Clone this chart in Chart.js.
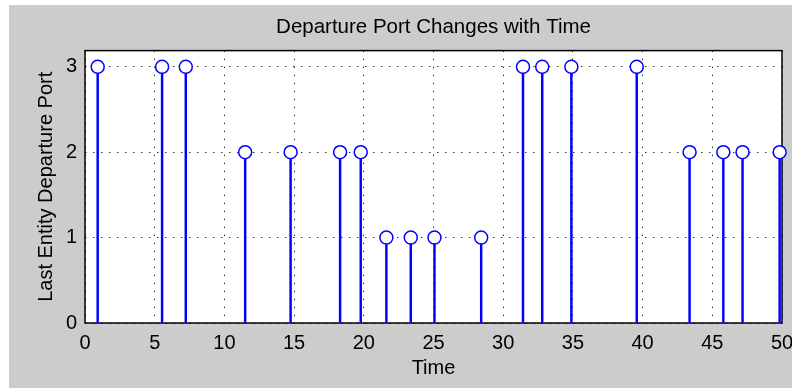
<!DOCTYPE html>
<html><head><meta charset="utf-8">
<script src="https://cdn.jsdelivr.net/npm/chart.js@4.4.0/dist/chart.umd.min.js"></script>
<style>
html,body{margin:0;padding:0;background:#fff;}
#wrap{position:absolute;left:9px;top:5px;width:783px;height:383px;background:#ccc;}
</style></head><body>
<div id="wrap"><canvas id="chartPort" width="783" height="383"></canvas></div>
<script>
const times=[0.91,5.53,7.23,11.49,14.75,18.3,19.78,21.62,23.37,25.07,28.42,31.42,32.8,34.89,39.58,43.37,45.79,47.17,49.83];
const ports=[3,3,3,2,2,2,2,1,1,1,1,3,3,3,3,2,2,2,2];
const xTicks=[0,5,10,15,20,25,30,35,40,45,50];
const yTicks=[0,1,2,3];
const FONT="'Liberation Sans', Arial, sans-serif";
const BLUE='#0000ff';

// white plot area + black box around it (matlab style)
const plotBox={id:'plotBox',
  beforeDraw(c){const {ctx,chartArea:a}=c;ctx.save();ctx.fillStyle='#fff';ctx.fillRect(a.left,a.top,a.right-a.left,a.bottom-a.top);ctx.restore();},
  beforeDatasetsDraw(c){const {ctx,chartArea:a}=c;ctx.save();ctx.strokeStyle='#000';ctx.lineWidth=1.5;ctx.strokeRect(a.left,a.top,a.right-a.left,a.bottom-a.top);ctx.restore();}
};

const pts=times.map((t,i)=>({x:t,y:ports[i]}));

new Chart(document.getElementById('chartPort').getContext('2d'),{
  type:'bar',
  data:{datasets:[
    {type:'scatter',data:pts,pointStyle:'circle',pointRadius:6.5,pointHoverRadius:6.5,borderColor:BLUE,backgroundColor:'#fff',pointBorderWidth:1.5,clip:false,order:0},
    {type:'bar',data:pts,backgroundColor:BLUE,barThickness:1.8,borderWidth:0,order:1}
  ]},
  options:{
    responsive:false,animation:false,
    layout:{padding:0},
    plugins:{
      legend:{display:false},tooltip:{enabled:false},
      title:{display:true,fullSize:false,text:'Departure Port Changes with Time',color:'#000',font:{family:FONT,size:20.5,weight:'normal'},padding:{top:10,bottom:11}}
    },
    scales:{
      x:{type:'linear',min:0,max:50,offset:false,
        afterBuildTicks:s=>{s.ticks=xTicks.map(v=>({value:v}));},
        afterFit:s=>{s.height=65;s.paddingRight=10;s.paddingLeft=0;},
        grid:{color:'#333',lineWidth:1,drawTicks:false,offset:false},
        border:{display:false,dash:[1.5,6.5]},
        ticks:{color:'#000',font:{family:FONT,size:20},padding:8,maxRotation:0},
        title:{display:true,text:'Time',color:'#000',font:{family:FONT,size:20},padding:{top:0,bottom:8}}
      },
      y:{min:0,max:3.19,
        afterBuildTicks:s=>{s.ticks=yTicks.map(v=>({value:v}));},
        afterFit:s=>{s.width=76;},
        grid:{color:'#333',lineWidth:1,drawTicks:false},
        border:{display:false,dash:[1.5,6.5]},
        ticks:{color:'#000',font:{family:FONT,size:20},padding:8},
        title:{display:true,text:'Last Entity Departure Port',color:'#000',font:{family:FONT,size:20},padding:{top:25,bottom:0}}
      }
    }
  },
  plugins:[plotBox]
});
</script>
</body></html>
